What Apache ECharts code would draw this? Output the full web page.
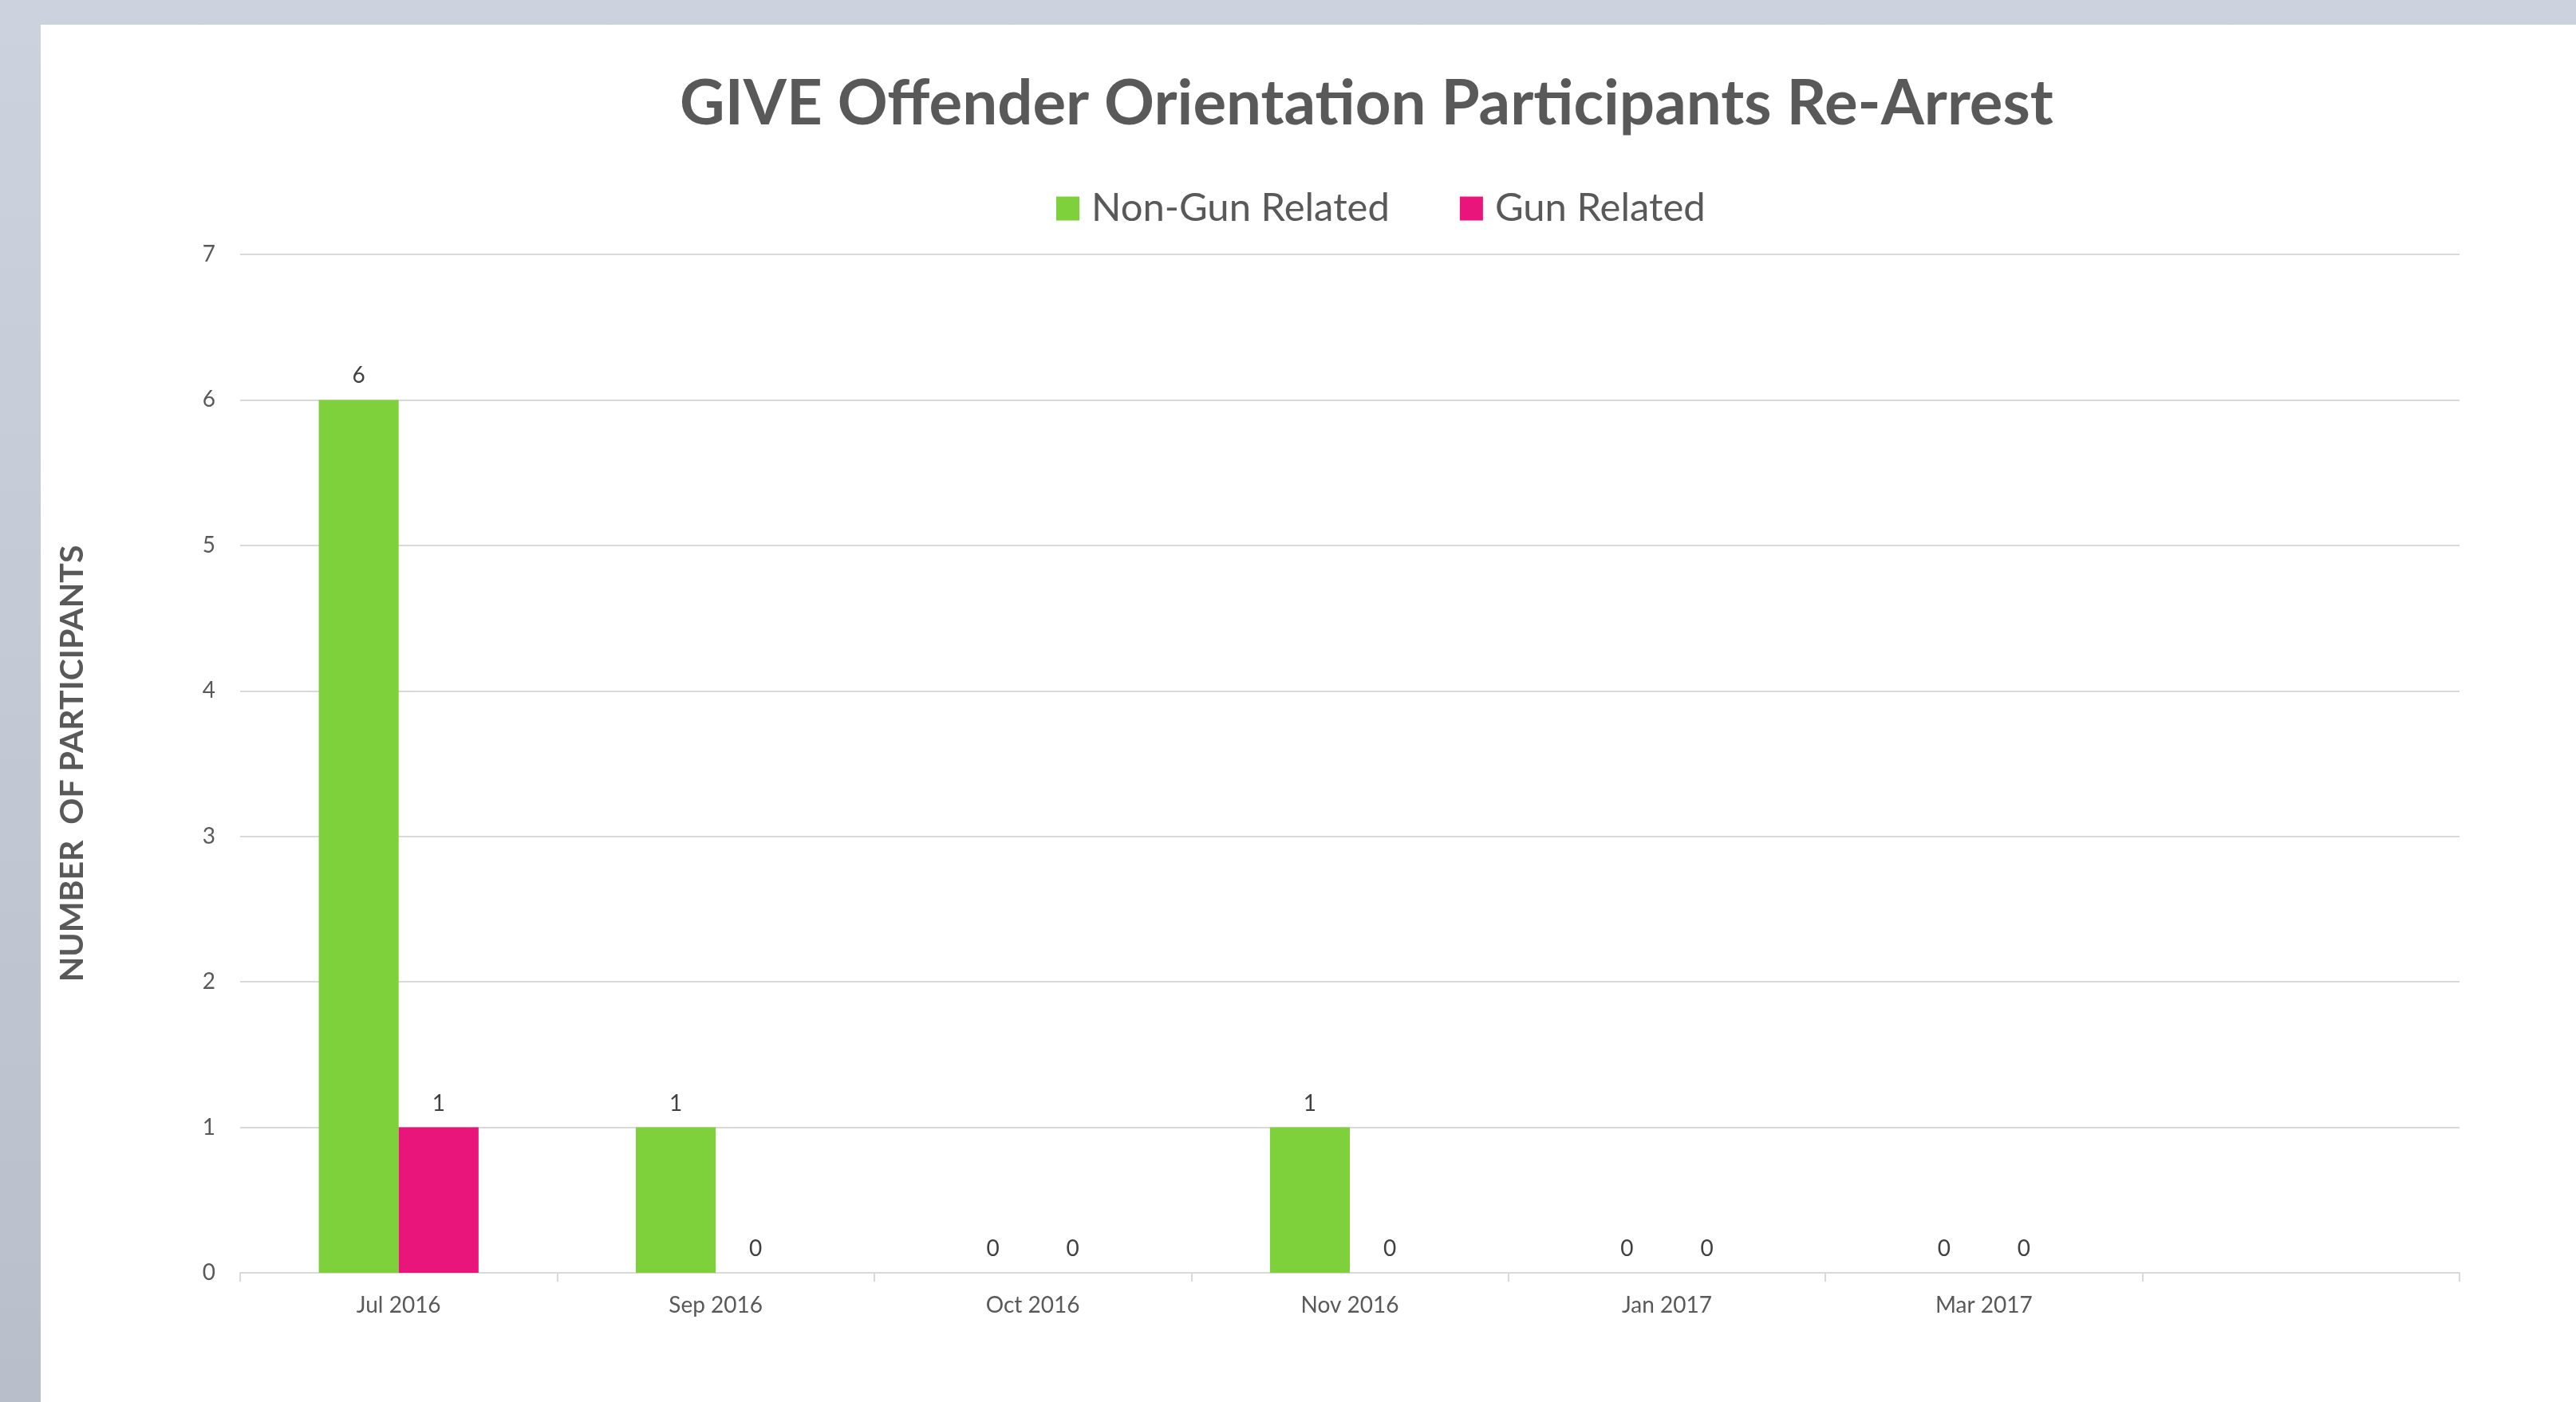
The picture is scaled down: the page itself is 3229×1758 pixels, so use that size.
<!DOCTYPE html>
<html lang="en">
<head>
    <meta charset="UTF-8">
    <title>GIVE Offender Orientation Participants Re-Arrest</title>
    <script src="https://cdn.jsdelivr.net/npm/echarts@6/dist/echarts.min.js"></script>
    <style>
        html, body {
            margin: 0;
            width: 100%;
            height: 100%;
            overflow: hidden;
            background: linear-gradient(to bottom, #cdd3de, #b8bfcb);
        }
        .panel {
            position: absolute;
            left: 51px;
            top: 31px;
            right: 0;
            bottom: 0;
            background: #fff;
        }
        #chart {
            position: absolute;
            left: 0;
            top: 0;
            width: 3229px;
            height: 1758px;
        }
    </style>
</head>
<body>
<div class="panel"></div>
<div id="chart"></div>

<script>
    // data
    var months = ['Jul 2016', 'Sep 2016', 'Oct 2016', 'Nov 2016', 'Jan 2017', 'Mar 2017', ''];
    var nonGun = [6, 1, 0, 1, 0, 0, '-'];
    var gun = [1, 0, 0, 0, 0, 0, '-'];
    var yTicks = [0, 7, 1]; // min, max, interval

    var font = 'Lato, "Open Sans", sans-serif';
    var textGray = '#595959';

    var myChart = echarts.init(document.getElementById('chart'));

    var labelStyle = {
        show: true,
        position: 'top',
        distance: 16,
        color: '#404040',
        fontSize: 28,
        fontFamily: font
    };

    myChart.setOption({
        backgroundColor: 'transparent',
        animation: false,
        title: {
            text: 'GIVE Offender Orientation Participants Re-Arrest',
            left: 852,
            top: 92,
            padding: 0,
            textStyle: {
                color: textGray,
                fontSize: 78,
                fontWeight: 'bold',
                fontFamily: font
            }
        },
        legend: {
            left: 1319,
            top: 232,
            itemWidth: 29,
            itemHeight: 30,
            itemGap: 88,
            icon: 'rect',
            textStyle: {
                color: textGray,
                fontSize: 49,
                fontFamily: font,
                padding: [0, 0, 0, 10]
            },
            data: ['Non-Gun Related', 'Gun Related']
        },
        grid: {
            left: 301,
            right: 146,
            top: 319,
            bottom: 162
        },
        xAxis: {
            type: 'category',
            data: months,
            axisLine: {lineStyle: {color: '#d9d9d9', width: 2}},
            axisTick: {show: true, length: 11, lineStyle: {color: '#d9d9d9', width: 2}},
            axisLabel: {
                color: textGray,
                fontSize: 28,
                fontFamily: font,
                margin: 27
            }
        },
        yAxis: {
            type: 'value',
            min: yTicks[0],
            max: yTicks[1],
            interval: yTicks[2],
            name: 'NUMBER  OF PARTICIPANTS',
            nameLocation: 'middle',
            nameRotate: 90,
            nameGap: 190,
            nameTextStyle: {
                color: textGray,
                fontSize: 41,
                fontWeight: 'bold',
                fontFamily: font
            },
            axisLine: {show: false},
            axisTick: {show: false},
            splitLine: {lineStyle: {color: '#d9d9d9', width: 2}},
            axisLabel: {
                color: textGray,
                fontSize: 28,
                fontFamily: font,
                margin: 31
            }
        },
        series: [
            {
                name: 'Non-Gun Related',
                type: 'bar',
                data: nonGun,
                barWidth: '25.2%',
                barGap: '0%',
                itemStyle: {color: '#7fd13b'},
                label: labelStyle
            },
            {
                name: 'Gun Related',
                type: 'bar',
                data: gun,
                barWidth: '25.2%',
                barGap: '0%',
                itemStyle: {color: '#ea157a'},
                label: labelStyle
            }
        ]
    });
</script>
</body>
</html>
